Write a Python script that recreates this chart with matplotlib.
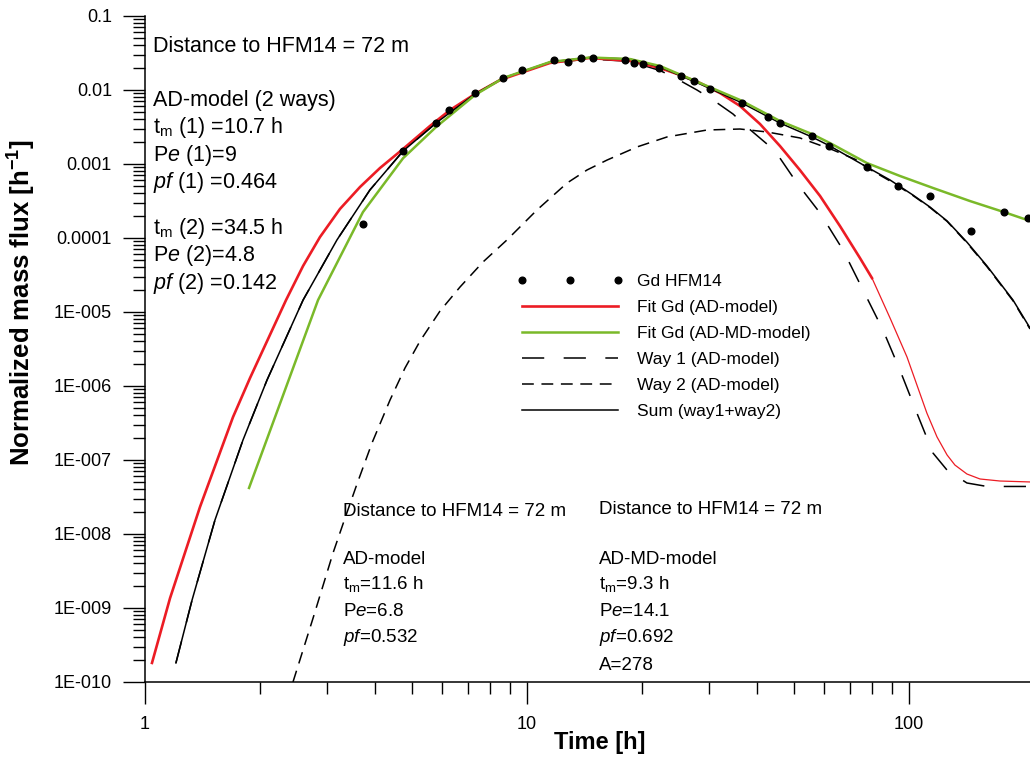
import numpy as np
import matplotlib
matplotlib.use("Agg")
import matplotlib.pyplot as plt
from matplotlib.ticker import FixedLocator, FuncFormatter, NullFormatter

plt.rcParams['font.family'] = ['Liberation Sans', 'DejaVu Sans']
plt.rcParams['mathtext.fontset'] = 'custom'
plt.rcParams['mathtext.rm'] = 'Liberation Sans'
plt.rcParams['mathtext.it'] = 'Liberation Sans:italic'
plt.rcParams['mathtext.bf'] = 'Liberation Sans:bold'
plt.rcParams['lines.scale_dashes'] = False

# measured breakthrough (Gd HFM14)
t_obs = [3.72, 4.73, 5.78, 6.26, 7.31, 8.67, 9.72, 11.79, 12.83, 13.85, 14.92,
         18.05, 19.05, 20.12, 22.2, 25.26, 27.36, 30.22, 36.5, 42.8, 45.95,
         55.6, 61.9, 77.5, 93.4, 113.6, 145.3, 177.5, 205.0]
c_obs = [1.56e-4, 1.51e-3, 3.55e-3, 5.37e-3, 9.19e-3, 0.0147, 0.0185, 0.0258,
         0.0241, 0.0271, 0.0272, 0.0258, 0.0230, 0.0223, 0.0200, 0.0155, 0.0134,
         0.0102, 6.67e-3, 4.32e-3, 3.58e-3, 2.39e-3, 1.77e-3, 9.03e-4, 5.12e-4,
         3.66e-4, 1.26e-4, 2.25e-4, 1.89e-4]

# fit, AD-model (thick part and thin tail)
t_ad = [1.043, 1.163, 1.393, 1.70, 1.883, 2.34, 2.593, 2.871, 3.239, 3.655,
        4.123, 4.74, 5.574, 6.29, 7.31, 8.50, 11.49, 14.62, 18.61, 22.30, 25.15,
        28.38, 32.0, 36.11, 40.74, 45.95, 51.8, 58.5, 65.97, 74.4, 80.0]
c_ad = [1.81e-10, 1.36e-9, 2.32e-8, 3.81e-7, 1.28e-6, 1.45e-5, 4.19e-5, 1.03e-4,
        2.47e-4, 4.89e-4, 8.83e-4, 1.60e-3, 3.27e-3, 5.37e-3, 8.83e-3, 0.01365,
        0.0232, 0.0271, 0.0247, 0.0198, 0.01596, 0.01244, 9.11e-3, 6.08e-3,
        3.47e-3, 1.75e-3, 8.3e-4, 3.70e-4, 1.45e-4, 5.37e-5, 2.88e-5]
t_ad_tail = [80.0, 89.2, 98.8, 111.4, 118.4, 125.8, 131.9, 141.8, 153.4, 173.1, 207.4]
c_ad_tail = [2.88e-5, 8.3e-6, 2.47e-6, 4.3e-7, 2.05e-7, 1.17e-7, 8.55e-8, 6.47e-8,
             5.54e-8, 5.2e-8, 5.05e-8]

# fit, AD-MD-model
t_admd = [1.872, 2.838, 3.72, 4.74, 5.78, 7.31, 8.67, 11.49, 14.62, 18.61, 22.30,
          28.38, 36.11, 45.95, 55.7, 62.1, 77.6, 94.7, 115.6, 144.4, 177.3, 207.4]
c_admd = [4.19e-8, 1.45e-5, 2.24e-4, 1.20e-3, 3.16e-3, 8.56e-3, 0.01453, 0.0239,
          0.0275, 0.0262, 0.0211, 0.01243, 7.33e-3, 3.81e-3, 2.54e-3, 1.92e-3,
          1.03e-3, 6.89e-4, 4.74e-4, 3.16e-4, 2.24e-4, 1.70e-4]

# way 1, way 2 and their sum (AD-model, 2 ways)
t_w1 = [1.205, 1.328, 1.525, 1.805, 2.086, 2.593, 3.18, 3.88, 4.74, 5.78, 7.31,
        8.67, 11.49, 14.62, 18.61, 22.30, 24.11, 27.86, 30.69, 34.62, 37.66, 42.5,
        45.95, 50.9, 58.5, 67.2, 75.8, 85.5, 94.7, 104.9, 115.6, 125.8, 141.8,
        160.0, 207.4]
c_w1 = [1.81e-10, 1.28e-9, 1.55e-8, 1.86e-7, 1.20e-6, 1.45e-5, 9.4e-5, 4.46e-4,
        1.50e-3, 3.57e-3, 8.8e-3, 0.0144, 0.0234, 0.0262, 0.0244, 0.0183, 0.01514,
        0.0100, 7.33e-3, 4.74e-3, 3.16e-3, 1.86e-3, 1.20e-3, 5.53e-4, 2.18e-4,
        6.88e-5, 1.98e-5, 5.7e-6, 1.64e-6, 4.3e-7, 1.24e-7, 7.3e-8, 4.89e-8,
        4.39e-8, 4.39e-8]
t_w2 = [2.44, 2.754, 3.106, 3.339, 3.589, 3.929, 4.38, 4.793, 5.25, 5.919, 6.68,
        7.67, 8.86, 10.62, 12.73, 14.36, 16.20, 19.41, 23.26, 29.6, 36.11, 42.5,
        51.8, 63.2, 73.1, 77.6, 89.2, 102.4, 113.5, 125.8, 141.8, 160.0, 187.2,
        207.4]
c_w2 = [1.0e-10, 7.3e-10, 5.53e-9, 1.64e-8, 4.74e-8, 1.70e-7, 6.47e-7, 1.75e-6,
        4.06e-6, 1.03e-5, 2.18e-5, 4.74e-5, 9.4e-5, 2.39e-4, 5.53e-4, 8.3e-4,
        1.13e-3, 1.70e-3, 2.32e-3, 2.88e-3, 2.97e-3, 2.71e-3, 2.25e-3, 1.55e-3,
        1.13e-3, 8.9e-4, 5.9e-4, 3.75e-4, 2.58e-4, 1.68e-4, 8.6e-5, 4.1e-5,
        1.42e-5, 5.9e-6]
t_sum = [1.205, 1.328, 1.525, 1.805, 2.086, 2.593, 3.18, 3.88, 4.74, 5.78, 7.31,
         8.67, 11.49, 14.62, 18.61, 22.30, 28.38, 36.11, 45.95, 55.7, 62.1, 77.6,
         89.2, 102.4, 113.5, 125.8, 141.8, 160.0, 187.2, 207.4]
c_sum = [1.81e-10, 1.28e-9, 1.55e-8, 1.86e-7, 1.20e-6, 1.45e-5, 9.4e-5, 4.46e-4,
         1.50e-3, 3.58e-3, 8.83e-3, 0.01453, 0.0239, 0.0275, 0.0262, 0.0205,
         0.01205, 6.89e-3, 3.58e-3, 2.32e-3, 1.75e-3, 9.1e-4, 6.08e-4, 3.81e-4,
         2.62e-4, 1.70e-4, 8.8e-5, 4.19e-5, 1.45e-5, 6.08e-6]

x_major = [1, 10, 100]
x_minor = [2, 3, 4, 5, 6, 7, 8, 9, 20, 30, 40, 50, 60, 70, 80, 90]

RED = '#ec1c24'
GREEN = '#7ab929'
W, H = 1030, 760


def fpos(x, y):
    # pixel position (from top left) -> figure fraction
    return x / W, (H - y) / H


fig = plt.figure(figsize=(W / 100, H / 100), dpi=100)
ax = fig.add_axes([145 / W, (H - 682) / H, (W - 145) / W, (682 - 16) / H])

ax.plot(t_w1, c_w1, color='black', lw=1.1, dashes=(16, 14), label='Way 1 (AD-model)')
ax.plot(t_w2, c_w2, color='black', lw=1.1, dashes=(8.5, 5.5), label='Way 2 (AD-model)')
ax.plot(t_ad, c_ad, color=RED, lw=1.9, label='Fit Gd (AD-model)')
ax.plot(t_ad_tail, c_ad_tail, color=RED, lw=0.9)
ax.plot(t_sum, c_sum, color='black', lw=1.1, label='Sum (way1+way2)')
ax.plot(t_admd, c_admd, color=GREEN, lw=1.8, label='Fit Gd (AD-MD-model)')
ax.plot(t_obs, c_obs, 'o', color='black', ms=4.8, label='Gd HFM14')

ax.set_xscale('log')
ax.set_yscale('log')
ax.set_xlim(1, 207.4)
ax.set_ylim(1e-10, 0.1)

ax.xaxis.set_major_locator(FixedLocator(x_major))
ax.xaxis.set_major_formatter(FuncFormatter(lambda v, p: '%g' % v))
ax.xaxis.set_minor_locator(FixedLocator(x_minor))
ax.xaxis.set_minor_formatter(NullFormatter())

y_major = [10.0 ** e for e in range(-10, 0)]
y_minor = [m * 10.0 ** e for e in range(-10, -1) for m in range(2, 10)]


def fmt_y(v, pos):
    e = int(round(np.log10(v)))
    if e >= -4:
        return '%.*f' % (-e, v)
    return '1E-%03d' % (-e)


ax.yaxis.set_major_locator(FixedLocator(y_major))
ax.yaxis.set_major_formatter(FuncFormatter(fmt_y))
ax.yaxis.set_minor_locator(FixedLocator(y_minor))
ax.yaxis.set_minor_formatter(NullFormatter())

for s in ['top', 'right']:
    ax.spines[s].set_visible(False)
for s in ['left', 'bottom']:
    ax.spines[s].set_linewidth(1.1)
ax.tick_params(which='major', direction='out', length=15.8, width=1.0, labelsize=13)
ax.tick_params(axis='x', which='major', pad=9)
ax.tick_params(axis='y', which='major', pad=8)
ax.tick_params(which='minor', direction='out', length=8.3, width=1.0)

# legend
h, l = ax.get_legend_handles_labels()
order = ['Gd HFM14', 'Fit Gd (AD-model)', 'Fit Gd (AD-MD-model)',
         'Way 1 (AD-model)', 'Way 2 (AD-model)', 'Sum (way1+way2)']
hd = dict(zip(l, h))
ax.legend([hd[k] for k in order], order, loc='upper left',
          bbox_to_anchor=fpos(516.7, 274), bbox_transform=fig.transFigure,
          frameon=False, fontsize=12.5, handlelength=6.15, handletextpad=0.8,
          labelspacing=0.62, borderpad=0, borderaxespad=0, numpoints=3)

# text blocks
top_lines = [
    (52, 'Distance to HFM14 = 72 m'),
    (106, 'AD-model (2 ways)'),
    (133, r't$_\mathrm{m}$ (1) =10.7 h'),
    (161, r'P$\mathit{e}$ (1)=9'),
    (188, r'$\mathit{pf}$ (1) =0.464'),
    (234, r't$_\mathrm{m}$ (2) =34.5 h'),
    (261, r'P$\mathit{e}$ (2)=4.8'),
    (289, r'$\mathit{pf}$ (2) =0.142'),
]
for y, s in top_lines:
    fig.text(*fpos(153, y), s, fontsize=15.5, va='baseline', ha='left')

mid_lines = [
    (515.5, 'Distance to HFM14 = 72 m'),
    (564.5, 'AD-model'),
    (589.5, r't$_\mathrm{m}$=11.6 h'),
    (616.5, r'P$\mathit{e}$=6.8'),
    (641.5, r'$\mathit{pf}$=0.532'),
]
for y, s in mid_lines:
    fig.text(*fpos(343, y), s, fontsize=13.5, va='baseline', ha='left')

right_lines = [
    (513.5, 'Distance to HFM14 = 72 m'),
    (564.5, 'AD-MD-model'),
    (589.5, r't$_\mathrm{m}$=9.3 h'),
    (615.5, r'P$\mathit{e}$=14.1'),
    (641.5, r'$\mathit{pf}$=0.692'),
    (669.5, 'A=278'),
]
for y, s in right_lines:
    fig.text(*fpos(599, y), s, fontsize=13.5, va='baseline', ha='left')

fig.text(*fpos(22, 303), r'Normalized mass flux [h$^{\mathbf{-1}}$]', rotation=90,
         fontsize=18.5, fontweight='bold', ha='center', va='center')
fig.text(*fpos(600, 743), 'Time [h]', fontsize=17, fontweight='bold',
         ha='center', va='center')

fig.savefig('out.png', dpi=100)
